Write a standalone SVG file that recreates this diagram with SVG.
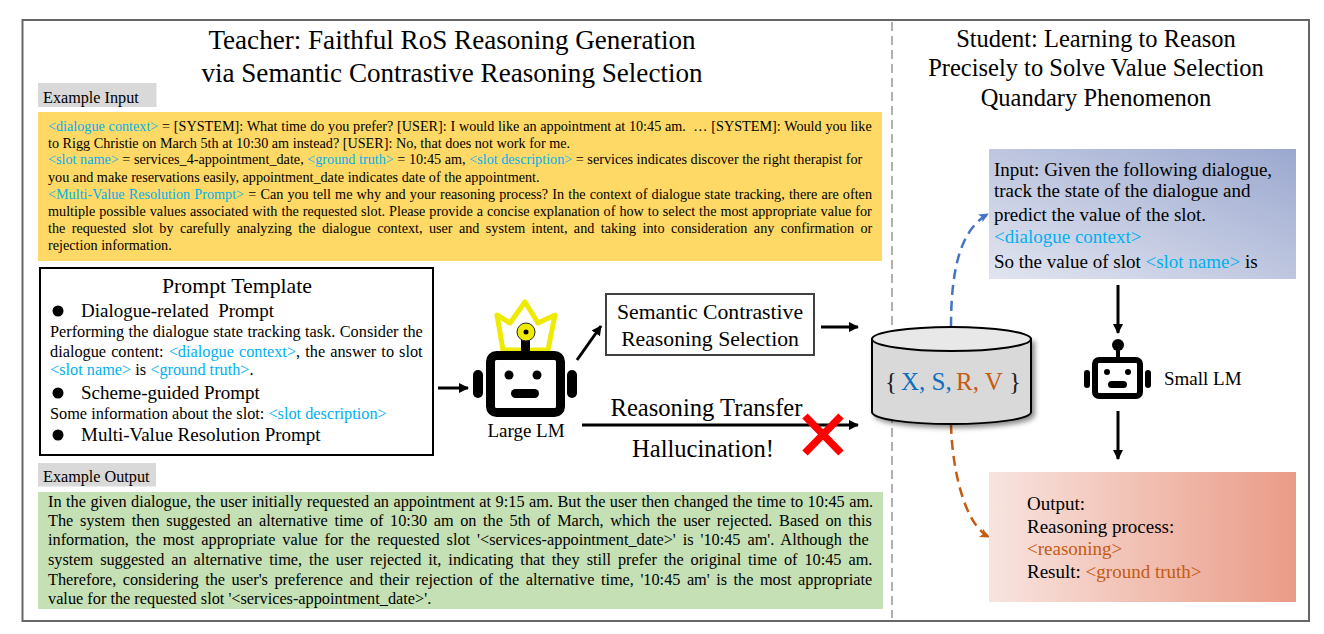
<svg xmlns="http://www.w3.org/2000/svg" width="1324" height="634" viewBox="0 0 1324 634">
<style>
text{font-family:"Liberation Serif","Times New Roman",serif;fill:#000;white-space:pre}
.b{fill:#00b0f0}.o{fill:#c55a11}
.t1{font-size:27.1px;text-anchor:middle}
.t2{font-size:24.5px;text-anchor:middle}
.lab{font-size:16.2px}
.p13{font-size:14.2px}
.g{font-size:16.3px}
.pt{font-size:16.3px}
.h{font-size:19px}
.big{font-size:21.7px;text-anchor:middle}
.big2{font-size:24.6px;text-anchor:middle}
.s{font-size:19px}
.conn{stroke:#000;stroke-width:3;fill:none}
</style>
<defs>
<marker id="ah" markerUnits="userSpaceOnUse" markerWidth="12" markerHeight="12" refX="9" refY="5" orient="auto"><path d="M0 0L10 5L0 10Z" fill="#000"/></marker>
<marker id="ahb" markerUnits="userSpaceOnUse" markerWidth="12" markerHeight="12" refX="9" refY="4.500" orient="auto"><path d="M0 0L10 4.500L0 9L2.500 4.500Z" fill="#4472c4"/></marker>
<marker id="aho" markerUnits="userSpaceOnUse" markerWidth="12" markerHeight="12" refX="9" refY="4.500" orient="auto"><path d="M0 0L10 4.500L0 9L2.500 4.500Z" fill="#c55a11"/></marker>
<linearGradient id="gi" x1="0" y1="1" x2="1" y2="0"><stop offset="0" stop-color="#e2e5f0"/><stop offset="1" stop-color="#9ba8cf"/></linearGradient>
<linearGradient id="go" x1="0" y1="0" x2="1" y2="0"><stop offset="0" stop-color="#f8e4df"/><stop offset="1" stop-color="#ea9b86"/></linearGradient>
<filter id="sh" x="-10%" y="-10%" width="125%" height="125%"><feDropShadow dx="3" dy="3" stdDeviation="2.5" flood-color="#000" flood-opacity=".45"/></filter>
</defs>
<rect width="1324" height="634" fill="#fff"/>
<rect id="frame" x="22.500" y="20" width="1286.500" height="601" fill="none" stroke="#666" stroke-width="2"/>
<line id="divider" x1="892" y1="22" x2="892" y2="618" stroke="#b0b0b0" stroke-width="2" stroke-dasharray="9 5"/>
<g id="teacher-title">
<text class="t1" x="452" y="49">Teacher: Faithful RoS Reasoning Generation</text>
<text class="t1" x="452" y="82">via Semantic Contrastive Reasoning Selection</text>
</g>
<g id="student-title">
<text class="t2" x="1096" y="46.500">Student: Learning to Reason</text>
<text class="t2" x="1096" y="75.500">Precisely to Solve Value Selection</text>
<text class="t2" x="1096" y="105.500">Quandary Phenomenon</text>
</g>
<g id="example-input-label">
<rect x="38" y="83" width="118.500" height="24" fill="#d9d9d9"/>
<text class="lab" x="43" y="103">Example Input</text>
</g>
<g id="example-input">
<rect x="38" y="112" width="844" height="149" fill="#ffd966"/>
<text class="p13" x="48" y="131" word-spacing=".2"><tspan class="b">&lt;dialogue context&gt;</tspan> = [SYSTEM]: What time do you prefer? [USER]: I would like an appointment at 10:45 am.  … [SYSTEM]: Would you like</text>
<text class="p13" x="48" y="148">to Rigg Christie on March 5th at 10:30 am instead? [USER]: No, that does not work for me.</text>
<text class="p13" x="48" y="164"><tspan class="b">&lt;slot name&gt;</tspan> = services_4-appointment_date, <tspan class="b">&lt;ground truth&gt;</tspan> = 10:45 am, <tspan class="b">&lt;slot description&gt;</tspan> = services indicates discover the right therapist for</text>
<text class="p13" x="48" y="182">you and make reservations easily, appointment_date indicates date of the appointment.</text>
<text class="p13" x="48" y="199" word-spacing=".6"><tspan class="b">&lt;Multi-Value Resolution Prompt&gt;</tspan> = Can you tell me why and your reasoning process? In the context of dialogue state tracking, there are often</text>
<text class="p13" x="48" y="216" word-spacing=".43">multiple possible values associated with the requested slot. Please provide a concise explanation of how to select the most appropriate value for</text>
<text class="p13" x="48" y="233" word-spacing="2.84">the requested slot by carefully analyzing the dialogue context, user and system intent, and taking into consideration any confirmation or</text>
<text class="p13" x="48" y="250">rejection information.</text>
</g>
<g id="prompt-template">
<rect x="40" y="268" width="393" height="187" fill="#fff" stroke="#000" stroke-width="2"/>
<text x="237" y="293" font-size="21.800" text-anchor="middle">Prompt Template</text>
<circle cx="58" cy="311" r="5.500"/><text class="h" x="81" y="317">Dialogue-related  Prompt</text>
<text class="pt" x="50" y="337" word-spacing=".29">Performing the dialogue state tracking task. Consider the</text>
<text class="pt" x="50" y="357" word-spacing="1">dialogue content: <tspan class="b">&lt;dialogue context&gt;</tspan>, the answer to slot</text>
<text class="pt" x="50" y="375"><tspan class="b">&lt;slot name&gt;</tspan> is <tspan class="b">&lt;ground truth&gt;</tspan>.</text>
<circle cx="58" cy="393" r="5.500"/><text class="h" x="81" y="399">Scheme-guided Prompt</text>
<text class="pt" x="50" y="419">Some information about the slot: <tspan class="b">&lt;slot description&gt;</tspan></text>
<circle cx="58" cy="435" r="5.500"/><text class="h" x="81" y="441">Multi-Value Resolution Prompt</text>
</g>
<g id="large-lm">
<path d="M497 315L510 323L525 302L538 323L555 315L548 350H503Z" fill="none" stroke="#eeea00" stroke-width="5" stroke-linejoin="round"/>
<rect x="521" y="339" width="9" height="12" fill="#000"/>
<circle cx="526" cy="332" r="9" fill="#eeea00" stroke="#222" stroke-width="1"/>
<circle cx="526" cy="332" r="2.500"/>
<rect x="490.500" y="355.500" width="70" height="57" rx="6" fill="#fff" stroke="#000" stroke-width="9"/>
<rect x="473" y="370" width="10" height="28" rx="5"/><rect x="567" y="370" width="10" height="28" rx="5"/>
<circle cx="509" cy="375" r="4.500"/><circle cx="537" cy="375" r="4.500"/>
<rect x="511" y="389" width="28" height="9" rx="4.500"/>
<text x="526" y="437" font-size="19" text-anchor="middle">Large LM</text>
</g>
<g id="semantic-selection">
<rect x="606" y="294" width="208" height="61" fill="#fff" stroke="#404040" stroke-width="2"/>
<text class="big" x="710" y="319">Semantic Contrastive</text>
<text class="big" x="710" y="346">Reasoning Selection</text>
</g>
<g id="connectors">
<path class="conn" d="M438 388H468" marker-end="url(#ah)"/>
<path class="conn" d="M577 360L601 326" marker-end="url(#ah)"/>
<path class="conn" d="M821 327H858" marker-end="url(#ah)"/>
<path class="conn" d="M582 425H858" marker-end="url(#ah)"/>
<path class="conn" d="M1118 285V333" marker-end="url(#ah)"/>
<path class="conn" d="M1118 411V459" marker-end="url(#ah)"/>
<path d="M951 327C951 270 960 230 988 214" fill="none" stroke="#4472c4" stroke-width="2.500" stroke-dasharray="10 6" marker-end="url(#ahb)"/>
<path d="M951 424C952 470 965 525 989 537" fill="none" stroke="#c55a11" stroke-width="2.500" stroke-dasharray="10 6" marker-end="url(#aho)"/>
</g>
<g id="transfer-labels">
<text class="big2" x="706.500" y="416">Reasoning Transfer</text>
<text class="big2" x="703" y="457">Hallucination!</text>
<path d="M805 416L841 453M841 416L805 453" stroke="#f00" stroke-width="7.500" fill="none"/>
</g>
<g id="database">
<path d="M872 339V412C872 419 908 424 951 424C994 424 1031 419 1031 412V339Z" fill="#d9d9d9" stroke="#000" stroke-width="2" filter="url(#sh)"/>
<ellipse cx="951.500" cy="339" rx="79.500" ry="12" fill="#e8e8e8" stroke="#000" stroke-width="2"/>
<text y="390" font-size="25"><tspan x="885" fill="#222">{</tspan><tspan x="901" fill="#0f6fc0">X, S,</tspan><tspan x="956" fill="#c55a11">R, V</tspan><tspan x="1009" fill="#222">}</tspan></text>
</g>
<g id="student-input">
<rect x="989" y="149" width="307" height="130" fill="url(#gi)"/>
<text class="s" x="994" y="175.500">Input: Given the following dialogue,</text>
<text class="s" x="994" y="197">track the state of the dialogue and</text>
<text class="s" x="994" y="221">predict the value of the slot.</text>
<text class="s b" x="994" y="243">&lt;dialogue context&gt;</text>
<text class="s" x="994" y="267.500">So the value of slot <tspan class="b">&lt;slot name&gt;</tspan> is</text>
</g>
<g id="small-lm">
<circle cx="1118" cy="345" r="6"/><rect x="1116" y="345" width="4" height="14"/>
<rect x="1095" y="360" width="45" height="36" rx="4" fill="#fff" stroke="#000" stroke-width="6"/>
<rect x="1084" y="370" width="6" height="18" rx="3"/><rect x="1145" y="370" width="6" height="18" rx="3"/>
<circle cx="1107" cy="372" r="3"/><circle cx="1128" cy="372" r="3"/>
<rect x="1108" y="381" width="19" height="7" rx="3.500"/>
<text x="1164" y="385" font-size="19">Small LM</text>
</g>
<g id="student-output">
<rect x="989" y="472" width="307" height="130" fill="url(#go)"/>
<text class="s" x="1027" y="510">Output:</text>
<text class="s" x="1027" y="533">Reasoning process:</text>
<text class="s o" x="1027" y="555">&lt;reasoning&gt;</text>
<text class="s" x="1027" y="578">Result: <tspan class="o">&lt;ground truth&gt;</tspan></text>
</g>
<g id="example-output-label">
<rect x="38" y="463" width="118" height="23.500" fill="#d9d9d9"/>
<text class="lab" x="43" y="482">Example Output</text>
</g>
<g id="example-output">
<rect x="38" y="492" width="845" height="117" fill="#c5e0b4"/>
<text class="g" x="48" y="507" word-spacing=".41">In the given dialogue, the user initially requested an appointment at 9:15 am. But the user then changed the time to 10:45 am.</text>
<text class="g" x="48" y="526" word-spacing="2.52">The system then suggested an alternative time of 10:30 am on the 5th of March, which the user rejected. Based on this</text>
<text class="g" x="48" y="545" word-spacing="2.86">information, the most appropriate value for the requested slot '&lt;services-appointment_date&gt;' is '10:45 am'. Although the</text>
<text class="g" x="48" y="565" word-spacing="2.84">system suggested an alternative time, the user rejected it, indicating that they still prefer the original time of 10:45 am.</text>
<text class="g" x="48" y="585" word-spacing="2.41">Therefore, considering the user's preference and their rejection of the alternative time, '10:45 am' is the most appropriate</text>
<text class="g" x="48" y="604">value for the requested slot '&lt;services-appointment_date&gt;'.</text>
</g>
</svg>
